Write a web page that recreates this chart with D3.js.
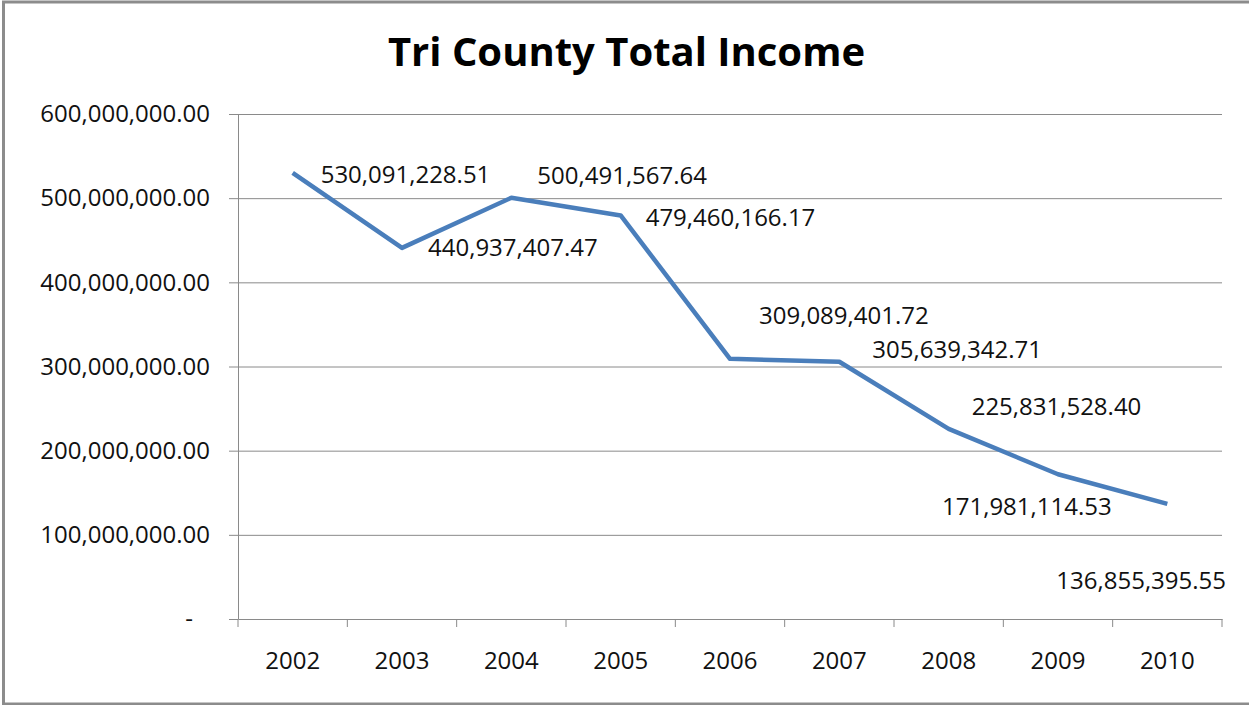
<!DOCTYPE html>
<html>
<head>
<meta charset="utf-8">
<script src="https://cdn.jsdelivr.net/npm/d3@7"></script>
<style>
  body { margin: 0; background: #fff; }
  svg { display: block; font-family: "Open Sans", sans-serif; }
  .grid line { stroke: #8a8a8a; stroke-width: 1; }
  .grid path { display: none; }
  .axis path, .axis line { stroke: #8a8a8a; stroke-width: 1; }
  .axis text { font-family: "Open Sans", sans-serif; font-size: 24px; fill: #111; }
</style>
</head>
<body>
<div id="chart"></div>
<script>
// data
const years = ["2002", "2003", "2004", "2005", "2006", "2007", "2008", "2009", "2010"];
const income = [530091228.51, 440937407.47, 500491567.64, 479460166.17, 309089401.72,
                305639342.71, 225831528.40, 171981114.53, 136855395.55];
const yTicks = [0, 100000000, 200000000, 300000000, 400000000, 500000000, 600000000];

// where each data label sits relative to its point (hand placed in the original)
const labelDx = [28, 26, 26, 25, 29, 33, 23, -116, -111];
const labelDy = [2, 0, -22, 2, -43, -12, -22, 32, 77];

let width = 1249, height = 705;
let margin = {top: 114, right: 27, bottom: 86, left: 238};
let _width = width - margin.left - margin.right,
    _height = height - margin.top - margin.bottom;

let svg = d3.select("#chart")
    .append("svg")
    .attr("width", width)
    .attr("height", height);

// outer frame
svg.append("rect")
    .attr("x", 3.5).attr("y", 2)
    .attr("width", 1300).attr("height", 702)
    .attr("fill", "none")
    .attr("stroke", "#8c8c8c")
    .attr("stroke-width", 3);

svg.append("text")
    .attr("x", width / 2 + 2)
    .attr("y", 66)
    .attr("text-anchor", "middle")
    .attr("font-size", "40px")
    .attr("font-weight", "bold")
    .attr("fill", "#000")
    .text("Tri County Total Income");

let g = svg.append("g")
    .attr("transform", "translate(" + margin.left + "," + margin.top + ")");

let xScale = d3.scaleBand()
    .domain(years)
    .range([0, _width]);

let yScale = d3.scaleLinear()
    .domain([0, 600000000])
    .range([_height, 0]);

let fmt = d3.format(",.2f");

// gridlines
g.append("g")
    .attr("class", "grid")
    .call(d3.axisLeft(yScale)
        .tickValues(yTicks.filter(d => d > 0))
        .tickSize(-_width)
        .tickFormat(""));

// y axis
let yAxis = g.append("g")
    .attr("class", "axis")
    .call(d3.axisLeft(yScale)
        .tickValues(yTicks)
        .tickSize(9)
        .tickPadding(19)
        .tickSizeOuter(0)
        .tickFormat(d => d === 0 ? "-" : fmt(d)));
yAxis.selectAll(".tick text")
    .filter(d => d === 0)
    .attr("dx", -17);

// x axis: labels centred in bands, tick marks on band edges
let xAxis = g.append("g")
    .attr("class", "axis")
    .attr("transform", "translate(0," + _height + ")")
    .call(d3.axisBottom(xScale)
        .tickSize(0)
        .tickPadding(33)
        .tickSizeOuter(0));

xAxis.selectAll(".edge")
    .data(years.map(d => xScale(d)).concat([_width]))
    .enter().append("line")
    .attr("class", "edge")
    .attr("x1", d => d).attr("x2", d => d)
    .attr("y1", 0).attr("y2", 8);

// line
let cx = (d, i) => xScale(years[i]) + xScale.bandwidth() / 2;

g.append("path")
    .datum(income)
    .attr("fill", "none")
    .attr("stroke", "#4a7ebb")
    .attr("stroke-width", 4.5)
    .attr("stroke-linejoin", "round")
    .attr("d", d3.line()
        .x(cx)
        .y(d => yScale(d)));

// data labels
g.selectAll(".lbl")
    .data(income)
    .enter().append("text")
    .attr("class", "lbl")
    .attr("x", (d, i) => cx(d, i) + labelDx[i])
    .attr("y", (d, i) => yScale(d) + labelDy[i])
    .attr("dy", "0.35em")
    .attr("font-size", "24px")
    .attr("fill", "#111")
    .text(d => fmt(d));
</script>
</body>
</html>
